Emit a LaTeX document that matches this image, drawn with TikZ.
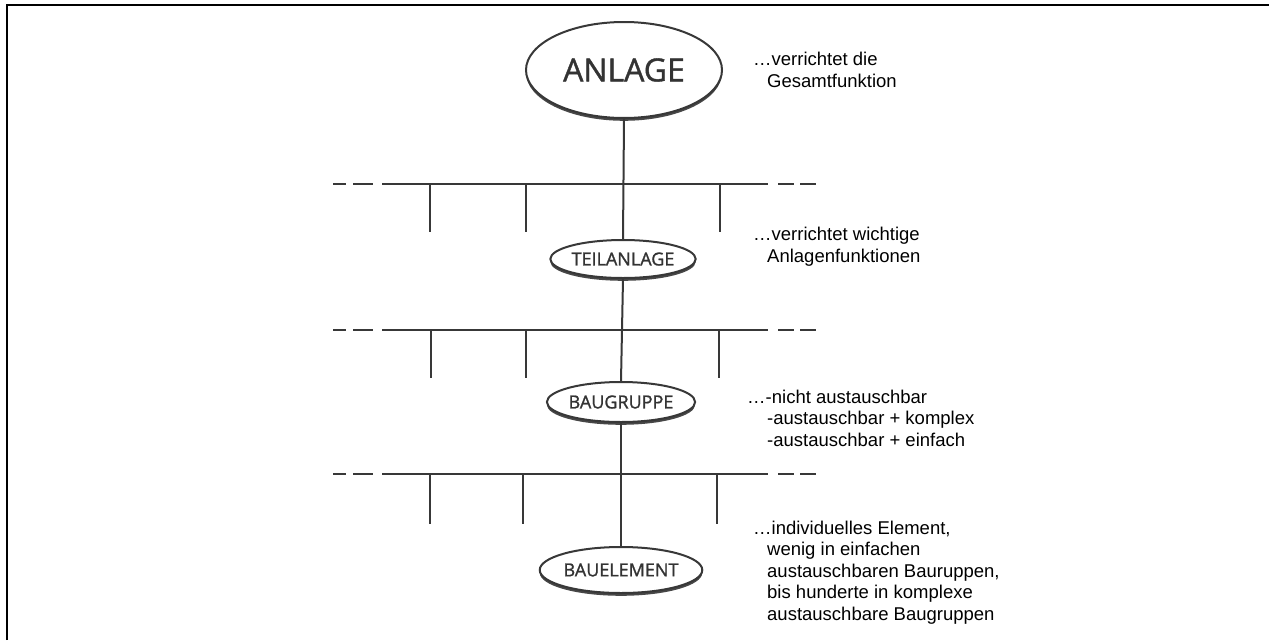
\documentclass[tikz,border=0pt]{standalone}
\usepackage{fontspec}
\setmainfont{Liberation Sans}
\newfontfamily\labelfont{Open Sans}[UprightFeatures={FakeBold=1.2}]
\usetikzlibrary{shapes.geometric,shadows}
\begin{document}
\begin{tikzpicture}[x=1pt,y=-1pt,
  level/.style={ellipse, draw=black!78, line width=2pt, fill=white,
    inner sep=0pt, text=black!80,
    drop shadow={shadow xshift=0pt, shadow yshift=-2.8pt, fill=black!72, opacity=1}},
  small/.style={font=\labelfont\fontsize{18}{20}\selectfont},
  link/.style={draw=black!78, line width=2pt},
  frame/.style={draw=black, line width=2.6pt},
  note/.style={anchor=north west, align=left, inner sep=0pt,
    font=\fontsize{18.5}{21.5}\selectfont}]
\useasboundingbox (0,0) rectangle (1269,640);

% frame
\draw[frame] (7,640) -- (7,5) -- (1269,5);

% hierarchy levels
\node[level, minimum width=196, minimum height=96,
  font=\labelfont\fontsize{32}{36}\selectfont] (anlage) at (624,70) {ANLAGE};
\node[level, small, minimum width=126, minimum height=38] (teil) at (623,259) {TEILANLAGE};
\node[level, small, minimum width=130, minimum height=40] (gruppe) at (621,402) {BAUGRUPPE};
\node[level, small, minimum width=136, minimum height=46] (element) at (621,570) {BAUELEMENT};

% buses between levels: dashed ends, solid middle, branches
\foreach \n/\y/\d/\xa/\xb/\xc in {1/184/48/430/526/720, 2/330/48/431/526/719, 3/474/50/430/523/717}{
  \coordinate (l1\n) at (333,\y);  \coordinate (l2\n) at (346,\y);
  \coordinate (l3\n) at (353,\y);  \coordinate (l4\n) at (373,\y);
  \coordinate (s1\n) at (382,\y);  \coordinate (s2\n) at (768,\y);
  \coordinate (r1\n) at (778,\y);  \coordinate (r2\n) at (794,\y);
  \coordinate (r3\n) at (800,\y);  \coordinate (r4\n) at (816,\y);
  \draw[link] (l1\n) -- (l2\n);
  \draw[link] (l3\n) -- (l4\n);
  \draw[link] (s1\n) -- (s2\n);
  \draw[link] (r1\n) -- (r2\n);
  \draw[link] (r3\n) -- (r4\n);
  \foreach \x [count=\k] in {\xa,\xb,\xc}{
    \coordinate (ta\n\k) at (\x,\y);
    \coordinate (tb\n\k) at (\x,\y+\d);
    \draw[link] (ta\n\k) -- (tb\n\k);
  }
}

% trunk
\draw[link] (anlage.south) -- (teil.north);
\draw[link] (teil.south) -- (gruppe.north);
\draw[link] (gruppe.south) -- (element.north);

% descriptions
\node[note] (n1) at (753,52) {…verrichtet die\\\hspace*{14pt}Gesamtfunktion};
\node[note] (n2) at (753,227) {…verrichtet wichtige\\\hspace*{14pt}Anlagenfunktionen};
\node[note] (n3) at (747,389.5) {…-nicht austauschbar\\\hspace*{20pt}-austauschbar + komplex\\\hspace*{20pt}-austauschbar + einfach};
\node[note] (n4) at (753,520.5) {…individuelles Element,\\\hspace*{14pt}wenig in einfachen\\\hspace*{14pt}austauschbaren Bauruppen,\\\hspace*{14pt}bis hunderte in komplexe\\\hspace*{14pt}austauschbare Baugruppen};
\end{tikzpicture}
\end{document}
